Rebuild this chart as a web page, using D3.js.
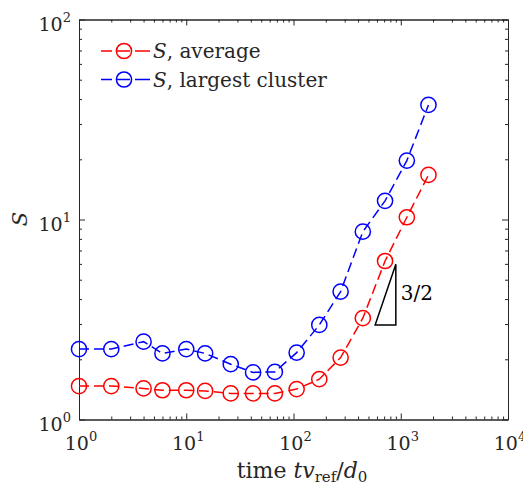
<!DOCTYPE html>
<html><head><meta charset="utf-8">
<script src="https://cdn.jsdelivr.net/npm/d3@7"></script>
<style>body{margin:0;background:#fff} svg text{font-family:"DejaVu Serif";fill:#262626}</style>
</head><body><svg id="c" width="523" height="487"></svg>
<script>
const times=[1,2,4,6,10,15,26,42,67,107,174,275,443,714,1140,1813];
const sAverage=[1.47,1.47,1.43,1.40,1.40,1.39,1.35,1.35,1.35,1.42,1.59,2.04,3.21,6.20,10.26,16.7];
const sLargest=[2.25,2.25,2.45,2.14,2.25,2.14,1.89,1.72,1.73,2.16,2.97,4.36,8.69,12.4,19.7,37.4];
const xTickExp=[0,1,2,3,4];
const yTickExp=[0,1,2];
const triX=[577,900,900];
const triY=[2.97,2.97,5.97];
const slopeLabel="3/2";
const seriesNames=["average","largest cluster"];
const seriesColors=["#ff0000","#0000ff"];

const L=79,R=508,T=19.5,B=419.5;
const FONT="'DejaVu Serif'";
const svg=d3.select("#c");
const x=d3.scaleLog().domain([1,1e4]).range([L,R]);
const y=d3.scaleLog().domain([1,100]).range([B,T]);
const axCol="#262626";

const majorX=xTickExp.map(e=>Math.pow(10,e));
const majorY=yTickExp.map(e=>Math.pow(10,e));
const minorX=[],minorY=[];
for(let e=0;e<4;e++)for(let k=2;k<10;k++)minorX.push(k*Math.pow(10,e));
for(let e=0;e<2;e++)for(let k=2;k<10;k++)minorY.push(k*Math.pow(10,e));

function styleAxis(g){g.select(".domain").attr("stroke",axCol).attr("stroke-width",1);g.selectAll(".tick line").attr("stroke",axCol);g.selectAll(".tick text").remove();}
[[6,majorX,majorY],[3,minorX,minorY]].forEach(([len,vx,vy])=>{
  svg.append("g").attr("transform",`translate(0,${B})`).call(d3.axisBottom(x).tickValues(vx).tickSize(-len).tickSizeOuter(0)).call(styleAxis);
  svg.append("g").attr("transform",`translate(0,${T})`).call(d3.axisTop(x).tickValues(vx).tickSize(-len).tickSizeOuter(0)).call(styleAxis);
  svg.append("g").attr("transform",`translate(${L},0)`).call(d3.axisLeft(y).tickValues(vy).tickSize(-len).tickSizeOuter(0)).call(styleAxis);
  svg.append("g").attr("transform",`translate(${R},0)`).call(d3.axisRight(y).tickValues(vy).tickSize(-len).tickSizeOuter(0)).call(styleAxis);
});

function txt(){return svg.append("text").attr("font-family",FONT);}
// tick labels
xTickExp.forEach(e=>{
  const t=txt().attr("x",x(Math.pow(10,e))+2).attr("y",450).attr("text-anchor","middle").attr("font-size",19);
  t.append("tspan").text("10");
  t.append("tspan").attr("dy",-9).attr("font-size",13).text(e);
});
yTickExp.forEach(e=>{
  const t=txt().attr("x",71).attr("y",y(Math.pow(10,e))+11.5).attr("text-anchor","end").attr("font-size",19);
  t.append("tspan").text("10");
  t.append("tspan").attr("dy",-9).attr("font-size",13).text(e);
});
// axis titles
const xt=txt().attr("x",302).attr("y",478).attr("text-anchor","middle").attr("font-size",22);
xt.append("tspan").text("time ");
xt.append("tspan").attr("font-style","italic").text("tv");
xt.append("tspan").attr("dy",4).attr("font-size",15).text("ref");
xt.append("tspan").attr("dy",-4).text("/");
xt.append("tspan").attr("font-style","italic").text("d");
xt.append("tspan").attr("dy",4).attr("font-size",15).text("0");
txt().attr("transform","translate(27,219) rotate(-90)").attr("text-anchor","middle").attr("font-size",21).attr("font-style","italic").text("S");

// series
const series=[sAverage,sLargest];
const line=d3.line().x((d,i)=>x(times[i])).y(d=>y(d));
series.forEach((s,k)=>{
  svg.append("path").datum(s).attr("d",line).attr("fill","none").attr("stroke",seriesColors[k]).attr("stroke-width",1.5).attr("stroke-dasharray","10,5");
  svg.append("g").selectAll("circle").data(s).join("circle").attr("cx",(d,i)=>x(times[i])).attr("cy",d=>y(d)).attr("r",7.6).attr("fill","none").attr("stroke",seriesColors[k]).attr("stroke-width",1.5);
});
// slope triangle
svg.append("path").attr("d",d3.line()(triX.map((v,i)=>[x(v),y(triY[i])]))+"Z").attr("fill","none").attr("stroke","#000").attr("stroke-width",1.5);
txt().attr("x",x(triX[1])+5).attr("y",300).attr("font-size",20).style("fill","#000").text(slopeLabel);

// legend
seriesNames.forEach((n,k)=>{
  const yy=51+k*28.5;
  svg.append("line").attr("x1",101).attr("x2",150).attr("y1",yy).attr("y2",yy).attr("stroke",seriesColors[k]).attr("stroke-width",1.5).attr("stroke-dasharray","11,5,13,5,15");
  svg.append("circle").attr("cx",124).attr("cy",yy).attr("r",7.6).attr("fill","none").attr("stroke",seriesColors[k]).attr("stroke-width",1.5);
  const t=txt().attr("x",153).attr("y",yy+7).attr("font-size",20);
  t.append("tspan").attr("font-style","italic").text("S");
  t.append("tspan").text(", "+n);
});
</script></body></html>
